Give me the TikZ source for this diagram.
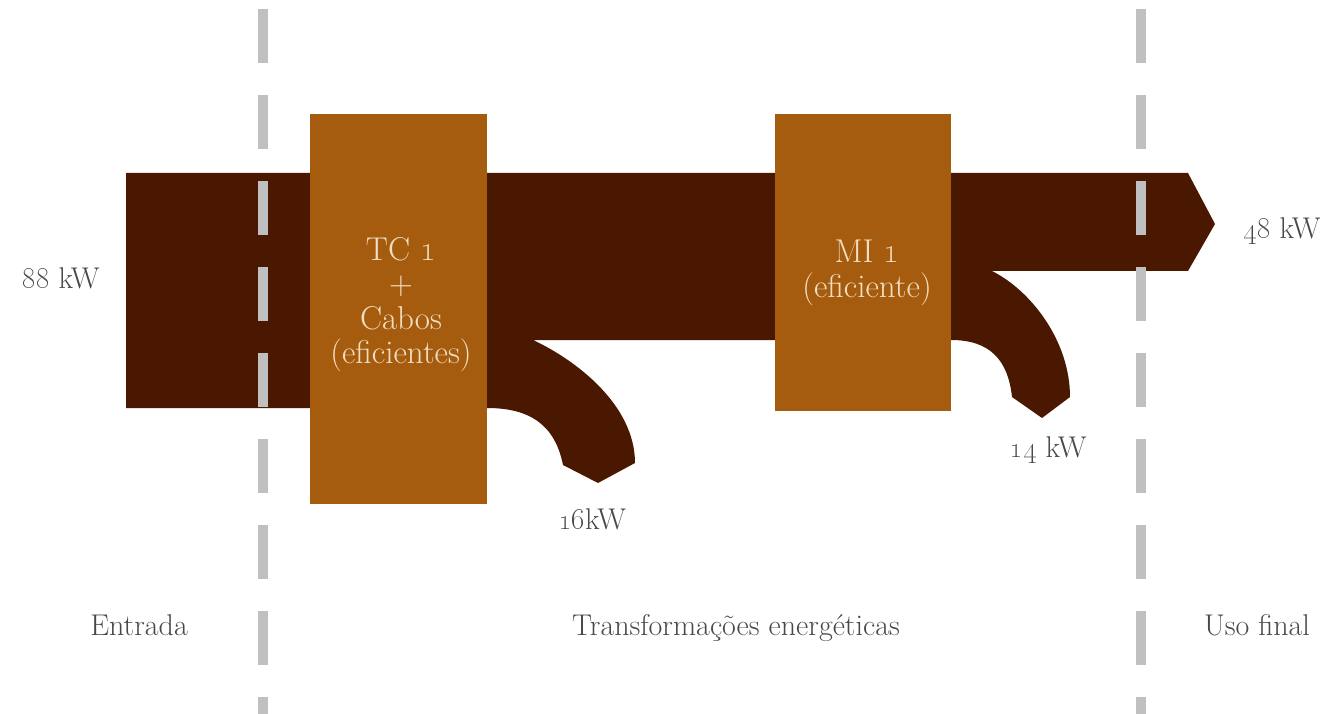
\documentclass[tikz,border=0pt]{standalone}
\usepackage{tikz}
\definecolor{flowc}{RGB}{74,24,0}
\definecolor{boxc}{RGB}{166,92,15}
\definecolor{dashc}{RGB}{192,192,192}
\definecolor{labc}{RGB}{72,72,72}
\definecolor{intextc}{RGB}{242,222,192}
\begin{document}
\begin{tikzpicture}[x=1pt,y=-1pt,
  lbl/.style={text=labc, font=\fontsize{30}{34}\selectfont, inner sep=0pt, anchor=base},
  unit/.style={fill=boxc, draw=none, inner sep=0pt, anchor=north west},
  intxt/.style={text=intextc, font=\fontsize{33}{34.5}\selectfont, align=center, inner sep=0pt, anchor=north},
  divider/.style={draw=dashc, line width=10pt, dash pattern=on 54pt off 32pt, dash phase=77pt},
  flow/.style={fill=flowc, draw=none}]
\useasboundingbox (0,0) rectangle (1334,714);

% Sankey flow
\fill[flow] (126,173) -- (1188,173) -- (1215,224) -- (1188,271) -- (992,271)
  .. controls (1030,290) and (1070,340) .. (1070,397) -- (1042,418) -- (1012,397)
  .. controls (1008,360) and (990,340) .. (951,340)
  -- (533,340) .. controls (576,360) and (635,405) .. (635,463) -- (598,483) -- (563,465)
  .. controls (555,425) and (530,408) .. (487,408) -- (126,408) -- cycle;

% stage dividers
\coordinate (d1top) at (263,0);
\coordinate (d1bot) at (263,714);
\coordinate (d2top) at (1141,0);
\coordinate (d2bot) at (1141,714);
\draw[divider] (d1top) -- (d1bot);
\draw[divider] (d2top) -- (d2bot);

% transformation units
\node[unit, minimum width=177pt, minimum height=390pt] (tc) at (310,114) {};
\node[unit, minimum width=176pt, minimum height=297pt] (mi) at (775,114) {};
\node[intxt] (tctext) at (401,237) {TC \oldstylenums{1}\\+\\Cabos\\(eficientes)};
\node[intxt] (mitext) at (867,240) {MI \oldstylenums{1}\\(eficiente)};

% labels
\node[lbl] (in) at (61,288) {\oldstylenums{88} kW};
\node[lbl] (out) at (1282,239) {\oldstylenums{48} kW};
\node[lbl] (loss1) at (592,529) {\oldstylenums{16}kW};
\node[lbl] (loss2) at (1048,457) {\oldstylenums{14} kW};
\node[lbl] (s1) at (139,635) {Entrada};
\node[lbl] (s2) at (736,635) {Transformações energéticas};
\node[lbl] (s3) at (1257,635) {Uso final};
\end{tikzpicture}
\end{document}
